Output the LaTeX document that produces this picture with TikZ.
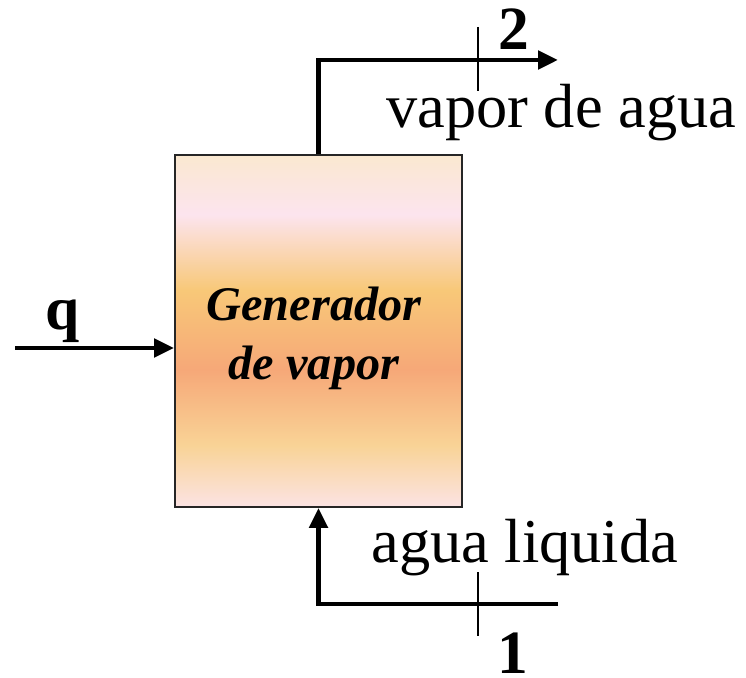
\documentclass[tikz,border=0pt]{standalone}
\usepackage{fontspec}
\setmainfont{Liberation Serif}
\usetikzlibrary{arrows.meta}
\definecolor{genTop}{HTML}{FAE8D0}
\definecolor{genPink}{HTML}{FCE4EE}
\definecolor{genOra}{HTML}{F8C878}
\definecolor{genSal}{HTML}{F6A878}
\definecolor{genYel}{HTML}{F9D396}
\definecolor{genBot}{HTML}{FBE3E3}
\pgfdeclareverticalshading{genshade}{100bp}{color(0bp)=(genBot); color(25bp)=(genBot); color(33.8bp)=(genYel); color(44.5bp)=(genSal); color(55.8bp)=(genOra); color(66.5bp)=(genPink); color(75bp)=(genTop); color(100bp)=(genTop)}
\tikzset{
  genbox/.style={draw=black!85, line width=1pt, shading=genshade, minimum width=5.74cm, minimum height=7.04cm, inner sep=0},
  gentext/.style={align=center, inner sep=0, font=\fontsize{27.5}{33.6}\selectfont\bfseries\itshape},
  pipe/.style={line width=2.8pt},
  tick/.style={line width=1.1pt},
  lbl/.style={inner sep=0, font=\fontsize{35.5}{40}\selectfont},
  num/.style={inner sep=0, font=\fontsize{35}{40}\selectfont\bfseries}
}
\begin{document}
\begin{tikzpicture}[x=0.02cm, y=-0.02cm, line join=miter, >={Triangle[length=4mm, width=3.6mm]}]
  \useasboundingbox (0,0) rectangle (746,678);
  \node[genbox] (gen) at (318.5,331) {};
  \node[gentext] (gentxt) at (314,338) {Generador\\de vapor};
  % salida de vapor
  \coordinate (out2) at (558,60);
  \draw[pipe, ->] (gen.north) |- (out2);
  \coordinate (t2a) at (478,27);
  \coordinate (t2b) at (478,91);
  \draw[tick] (t2a) -- (t2b);
  \node[num, anchor=base] (n2) at (514,50) {2};
  \node[lbl, anchor=base west] (vap) at (386,128) {vapor de agua};
  % entrada de agua
  \coordinate (in1) at (558,604);
  \draw[pipe, ->] (in1) -| (gen.south);
  \coordinate (t1a) at (478,572);
  \coordinate (t1b) at (478,636);
  \draw[tick] (t1a) -- (t1b);
  \node[num, anchor=base] (n1) at (513,673) {1};
  \node[lbl, anchor=base west] (liq) at (371,562) {agua liquida};
  % calor
  \coordinate (q0) at (15,348);
  \draw[pipe, ->] (q0) -- (q0 -| gen.west);
  \node[num, anchor=base] (nq) at (63,330) {q};
\end{tikzpicture}
\end{document}
